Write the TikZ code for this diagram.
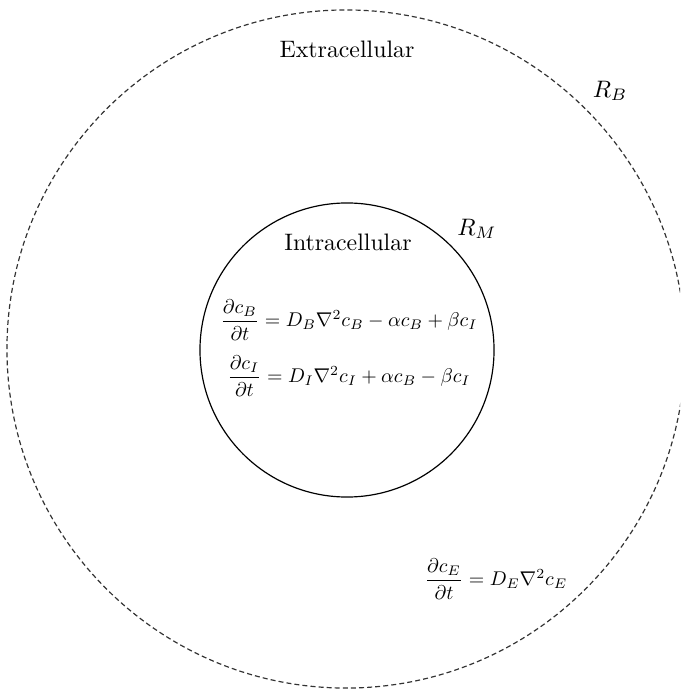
\documentclass[tikz,border=0pt]{standalone}
\usepackage{amsmath}
\usepackage{tikz}
\usetikzlibrary{positioning}

\begin{document}
\begin{tikzpicture}[x=0.42pt, y=-0.42pt,
    boundary/.style={draw=black!80, line width=0.5pt, dash pattern=on 2.1pt off 1.3pt},
    membrane/.style={draw=black, line width=0.5pt},
    label/.style={inner sep=0pt},
    eqn/.style={inner sep=0pt, scale=0.835, transform shape}]
    \clip (0,0) rectangle (680,692);
    % outer domain and cell
    \node[boundary, circle, minimum size=284.8pt, inner sep=0pt] (outer) at (346,349) {};
    \node[membrane, circle, minimum size=123.5pt, inner sep=0pt] (cell) at (347,350) {};
    % region names and radii
    \node[label] (extra) at (347,49) {Extracellular};
    \node[label] (intra) at (348,242) {Intracellular};
    \node[label] (rb) at (610,91) {$R_B$};
    \node[label] (rm) at (477,229) {$R_M$};
    % equations
    \node[eqn] (eqB) at (349,320) {$\dfrac{\partial c_B}{\partial t} = D_B\nabla^2 c_B - \alpha c_B + \beta c_I$};
    \node[eqn] (eqI) at (349,376) {$\dfrac{\partial c_I}{\partial t} = D_I\nabla^2 c_I + \alpha c_B - \beta c_I$};
    \node[eqn] (eqE) at (496,579) {$\dfrac{\partial c_E}{\partial t} = D_E\nabla^2 c_E$};
\end{tikzpicture}
\end{document}
